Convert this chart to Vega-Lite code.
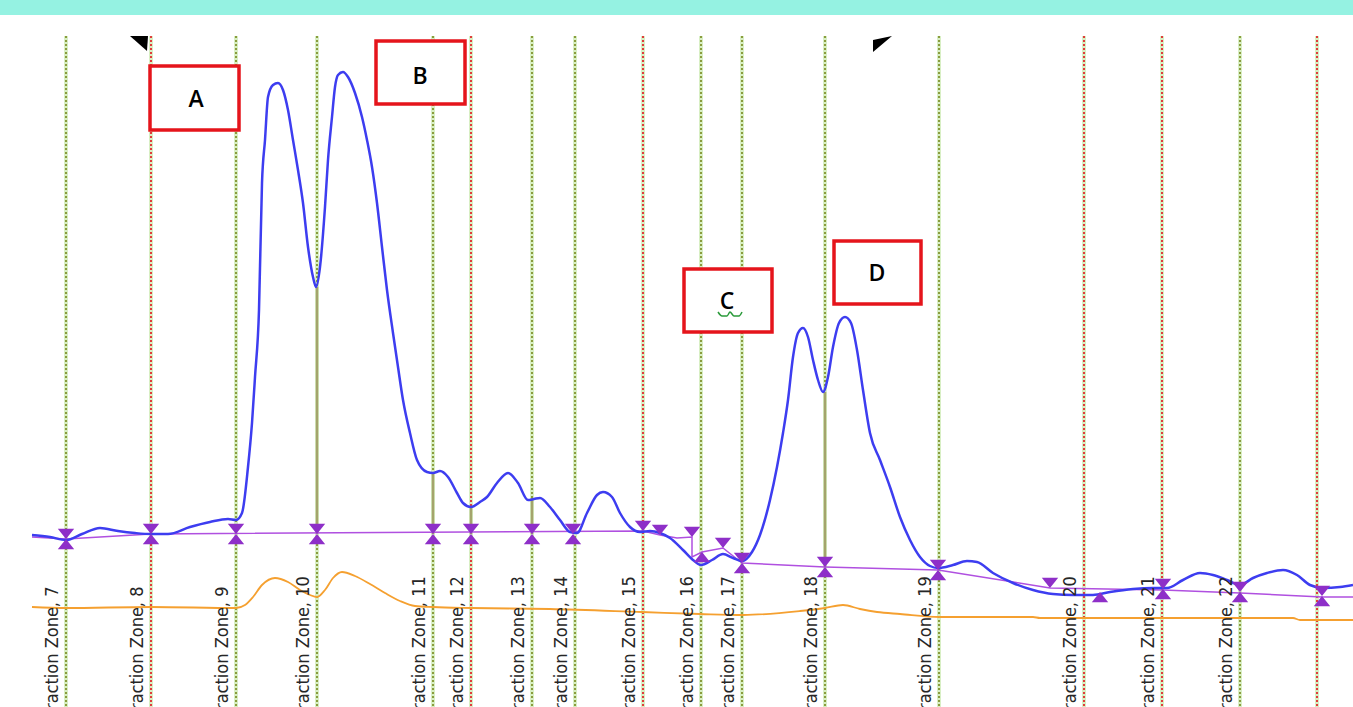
{
  "$schema": "https://vega.github.io/schema/vega-lite/v6.json",
  "width": 1353,
  "height": 707,
  "autosize": {"type": "none"},
  "padding": 0,
  "background": "white",
  "config": {"axis": {"disable": true}, "view": {"stroke": null}},
  "resolve": {"scale": {"shape": "independent", "color": "independent"}},
  "datasets": {
    "band": [{"t": 0, "t2": 1353, "s": 692, "s2": 707}],
    "zones": [
      {"t": 66, "kind": "g", "label": "Fraction Zone, 7"},
      {"t": 151, "kind": "r", "label": "Fraction Zone, 8"},
      {"t": 236, "kind": "g", "label": "Fraction Zone, 9"},
      {"t": 317, "kind": "g", "label": "Fraction Zone, 10"},
      {"t": 433, "kind": "g", "label": "Fraction Zone, 11"},
      {"t": 471, "kind": "r", "label": "Fraction Zone, 12"},
      {"t": 532, "kind": "g", "label": "Fraction Zone, 13"},
      {"t": 575, "kind": "g", "label": "Fraction Zone, 14"},
      {"t": 643, "kind": "r", "label": "Fraction Zone, 15"},
      {"t": 701, "kind": "g", "label": "Fraction Zone, 16"},
      {"t": 742, "kind": "g", "label": "Fraction Zone, 17"},
      {"t": 825, "kind": "g", "label": "Fraction Zone, 18"},
      {"t": 939, "kind": "g", "label": "Fraction Zone, 19"},
      {"t": 1084, "kind": "r", "label": "Fraction Zone, 20"},
      {"t": 1162, "kind": "r", "label": "Fraction Zone, 21"},
      {"t": 1240, "kind": "g", "label": "Fraction Zone, 22"},
      {"t": 1317, "kind": "r", "label": ""}
    ],
    "drops": [
      {"t": 317, "s": 420, "s2": 173},
      {"t": 433, "s": 234, "s2": 173},
      {"t": 471, "s": 200, "s2": 173},
      {"t": 532, "s": 209, "s2": 173},
      {"t": 825, "s": 315, "s2": 140}
    ],
    "orange": [
      {"t": 32, "s": 100}, {"t": 66, "s": 99}, {"t": 151, "s": 100}, {"t": 236, "s": 99},
      {"t": 245, "s": 102}, {"t": 253, "s": 110}, {"t": 262, "s": 122}, {"t": 275, "s": 129},
      {"t": 288, "s": 125}, {"t": 300, "s": 117}, {"t": 310, "s": 112}, {"t": 317, "s": 110},
      {"t": 325, "s": 117}, {"t": 333, "s": 129}, {"t": 342, "s": 135}, {"t": 355, "s": 131},
      {"t": 370, "s": 123}, {"t": 385, "s": 114}, {"t": 400, "s": 106}, {"t": 415, "s": 101},
      {"t": 433, "s": 100}, {"t": 471, "s": 99}, {"t": 550, "s": 98}, {"t": 642, "s": 95},
      {"t": 700, "s": 93}, {"t": 743, "s": 92}, {"t": 800, "s": 96}, {"t": 825, "s": 99},
      {"t": 843, "s": 102}, {"t": 860, "s": 98}, {"t": 877, "s": 95}, {"t": 900, "s": 93},
      {"t": 940, "s": 90}, {"t": 1033, "s": 90}, {"t": 1040, "s": 89}, {"t": 1293, "s": 89},
      {"t": 1300, "s": 87}, {"t": 1353, "s": 87}
    ],
    "base": [
      {"i": 1, "t": 32, "s": 170}, {"i": 2, "t": 66, "s": 168}, {"i": 3, "t": 151, "s": 173},
      {"i": 4, "t": 643, "s": 176}, {"i": 5, "t": 660, "s": 172}, {"i": 6, "t": 677, "s": 169},
      {"i": 7, "t": 692, "s": 170}, {"i": 8, "t": 692, "s": 150}, {"i": 9, "t": 702, "s": 155},
      {"i": 10, "t": 723, "s": 159}, {"i": 11, "t": 742, "s": 144}, {"i": 12, "t": 825, "s": 140},
      {"i": 13, "t": 938, "s": 137}, {"i": 14, "t": 1050, "s": 119}, {"i": 15, "t": 1163, "s": 117},
      {"i": 16, "t": 1240, "s": 114}, {"i": 17, "t": 1322, "s": 110}, {"i": 18, "t": 1353, "s": 110}
    ],
    "blue": [
      {"t": 32, "s": 172}, {"t": 50, "s": 170}, {"t": 66, "s": 167}, {"t": 82, "s": 173},
      {"t": 100, "s": 179}, {"t": 118, "s": 176}, {"t": 135, "s": 174}, {"t": 151, "s": 173},
      {"t": 168, "s": 173}, {"t": 190, "s": 180}, {"t": 210, "s": 185}, {"t": 228, "s": 188},
      {"t": 236, "s": 187}, {"t": 242, "s": 194}, {"t": 248, "s": 240}, {"t": 252, "s": 284},
      {"t": 255, "s": 330}, {"t": 259, "s": 397}, {"t": 262, "s": 524}, {"t": 265, "s": 567},
      {"t": 268, "s": 610}, {"t": 273, "s": 622}, {"t": 278, "s": 624}, {"t": 283, "s": 617},
      {"t": 288, "s": 597}, {"t": 293, "s": 567}, {"t": 298, "s": 537}, {"t": 303, "s": 504},
      {"t": 308, "s": 460}, {"t": 313, "s": 430}, {"t": 316, "s": 420}, {"t": 320, "s": 440},
      {"t": 325, "s": 500}, {"t": 328, "s": 547}, {"t": 332, "s": 590}, {"t": 335, "s": 620},
      {"t": 338, "s": 632}, {"t": 343, "s": 635}, {"t": 348, "s": 630}, {"t": 355, "s": 614},
      {"t": 362, "s": 590}, {"t": 367, "s": 567}, {"t": 372, "s": 540}, {"t": 377, "s": 504},
      {"t": 382, "s": 460}, {"t": 387, "s": 417}, {"t": 393, "s": 374}, {"t": 398, "s": 340},
      {"t": 403, "s": 307}, {"t": 410, "s": 274}, {"t": 417, "s": 247}, {"t": 427, "s": 235},
      {"t": 433, "s": 234}, {"t": 440, "s": 236}, {"t": 448, "s": 230}, {"t": 457, "s": 214},
      {"t": 463, "s": 204}, {"t": 471, "s": 200}, {"t": 480, "s": 205}, {"t": 487, "s": 210},
      {"t": 497, "s": 224}, {"t": 508, "s": 234}, {"t": 518, "s": 224}, {"t": 528, "s": 207},
      {"t": 534, "s": 208}, {"t": 540, "s": 209}, {"t": 550, "s": 200}, {"t": 560, "s": 187},
      {"t": 570, "s": 175}, {"t": 577, "s": 174}, {"t": 587, "s": 194}, {"t": 597, "s": 212},
      {"t": 603, "s": 215}, {"t": 612, "s": 210}, {"t": 620, "s": 194}, {"t": 630, "s": 180},
      {"t": 640, "s": 175}, {"t": 650, "s": 176}, {"t": 660, "s": 174}, {"t": 670, "s": 169},
      {"t": 683, "s": 157}, {"t": 693, "s": 147}, {"t": 701, "s": 142}, {"t": 712, "s": 147},
      {"t": 723, "s": 153}, {"t": 733, "s": 149}, {"t": 742, "s": 146}, {"t": 752, "s": 155},
      {"t": 760, "s": 172}, {"t": 770, "s": 207}, {"t": 777, "s": 240}, {"t": 783, "s": 274},
      {"t": 788, "s": 307}, {"t": 793, "s": 350}, {"t": 798, "s": 374}, {"t": 803, "s": 379},
      {"t": 808, "s": 370}, {"t": 813, "s": 347}, {"t": 818, "s": 327}, {"t": 823, "s": 315},
      {"t": 828, "s": 330}, {"t": 833, "s": 360}, {"t": 839, "s": 384}, {"t": 845, "s": 390},
      {"t": 851, "s": 384}, {"t": 857, "s": 357}, {"t": 863, "s": 317}, {"t": 870, "s": 274},
      {"t": 880, "s": 247}, {"t": 890, "s": 220}, {"t": 900, "s": 190}, {"t": 910, "s": 167},
      {"t": 920, "s": 150}, {"t": 930, "s": 141}, {"t": 938, "s": 139}, {"t": 953, "s": 142},
      {"t": 967, "s": 146}, {"t": 977, "s": 145}, {"t": 993, "s": 134}, {"t": 1013, "s": 124},
      {"t": 1033, "s": 117}, {"t": 1053, "s": 113}, {"t": 1073, "s": 112}, {"t": 1093, "s": 112},
      {"t": 1110, "s": 115}, {"t": 1133, "s": 118}, {"t": 1153, "s": 119}, {"t": 1167, "s": 119},
      {"t": 1183, "s": 127}, {"t": 1200, "s": 134}, {"t": 1213, "s": 132}, {"t": 1227, "s": 127},
      {"t": 1240, "s": 122}, {"t": 1253, "s": 129}, {"t": 1267, "s": 134}, {"t": 1283, "s": 137},
      {"t": 1297, "s": 132}, {"t": 1310, "s": 122}, {"t": 1323, "s": 119}, {"t": 1340, "s": 120},
      {"t": 1353, "s": 122}
    ],
    "markers": [
      {"t": 66, "s": 168, "kind": "bow"}, {"t": 151, "s": 173, "kind": "bow"},
      {"t": 236, "s": 173, "kind": "bow"}, {"t": 317, "s": 173, "kind": "bow"},
      {"t": 433, "s": 173, "kind": "bow"}, {"t": 471, "s": 173, "kind": "bow"},
      {"t": 532, "s": 173, "kind": "bow"}, {"t": 573, "s": 173, "kind": "bow"},
      {"t": 643, "s": 176, "kind": "down"}, {"t": 660, "s": 172, "kind": "down"},
      {"t": 692, "s": 170, "kind": "down"}, {"t": 702, "s": 155, "kind": "up"},
      {"t": 723, "s": 159, "kind": "down"}, {"t": 742, "s": 144, "kind": "bow"},
      {"t": 825, "s": 140, "kind": "bow"}, {"t": 938, "s": 137, "kind": "bow"},
      {"t": 1050, "s": 119, "kind": "down"}, {"t": 1100, "s": 115, "kind": "up"},
      {"t": 1163, "s": 118, "kind": "bow"}, {"t": 1240, "s": 115, "kind": "bow"},
      {"t": 1322, "s": 111, "kind": "bow"}
    ],
    "boxes": [
      {"label": "A", "t": 150, "t2": 239, "s": 577, "s2": 641, "tc": 196, "sc": 607},
      {"label": "B", "t": 376, "t2": 465, "s": 603, "s2": 666, "tc": 420, "sc": 630},
      {"label": "C", "t": 684, "t2": 772, "s": 375, "s2": 438, "tc": 727, "sc": 405},
      {"label": "D", "t": 834, "t2": 921, "s": 403, "s2": 466, "tc": 877, "sc": 433}
    ],
    "squiggle": [
      {"t": 718, "s": 395}, {"t": 722, "s": 391}, {"t": 727, "s": 391}, {"t": 730, "s": 395},
      {"t": 734, "s": 391}, {"t": 739, "s": 391}, {"t": 742, "s": 395}
    ],
    "arrows": [
      {"t": 138, "s": 663, "kind": "L"},
      {"t": 882, "s": 663, "kind": "R"}
    ]
  },
  "layer": [
    {
      "data": {"name": "band"},
      "mark": {"type": "rect", "color": "#95f2e2"},
      "encoding": {
        "x": {"field": "t", "type": "quantitative", "scale": {"domain": [0, 1353], "nice": false, "zero": false}},
        "y": {"field": "s", "type": "quantitative", "scale": {"domain": [0, 707], "nice": false, "zero": false}},
        "x2": {"field": "t2"}, "y2": {"field": "s2"}
      }
    },
    {
      "data": {"name": "zones"},
      "mark": {"type": "rule", "strokeWidth": 4, "color": "#d8efc4"},
      "encoding": {
        "x": {"field": "t", "type": "quantitative"},
        "y": {"datum": 671, "type": "quantitative"}, "y2": {"datum": 0}
      }
    },
    {
      "data": {"name": "zones"},
      "mark": {"type": "rule", "strokeWidth": 2, "strokeDash": [2, 2]},
      "encoding": {
        "x": {"field": "t", "type": "quantitative"},
        "y": {"datum": 671, "type": "quantitative"}, "y2": {"datum": 0},
        "color": {"field": "kind", "type": "nominal", "scale": {"domain": ["g", "r"], "range": ["#8a9c3e", "#e03c3c"]}, "legend": null}
      }
    },
    {
      "data": {"name": "drops"},
      "mark": {"type": "rule", "strokeWidth": 2.5, "color": "#a4a46c"},
      "encoding": {
        "x": {"field": "t", "type": "quantitative"},
        "y": {"field": "s", "type": "quantitative"}, "y2": {"field": "s2"}
      }
    },
    {
      "data": {"name": "orange"},
      "mark": {"type": "line", "color": "#f5a030", "strokeWidth": 1.8, "interpolate": "monotone"},
      "encoding": {
        "x": {"field": "t", "type": "quantitative"},
        "y": {"field": "s", "type": "quantitative"}
      }
    },
    {
      "data": {"name": "base"},
      "mark": {"type": "line", "color": "#b050e0", "strokeWidth": 1.5},
      "encoding": {
        "x": {"field": "t", "type": "quantitative"},
        "y": {"field": "s", "type": "quantitative"},
        "order": {"field": "i", "type": "quantitative"}
      }
    },
    {
      "data": {"name": "blue"},
      "mark": {"type": "line", "color": "#3d3df0", "strokeWidth": 2.5, "interpolate": "monotone"},
      "encoding": {
        "x": {"field": "t", "type": "quantitative"},
        "y": {"field": "s", "type": "quantitative"}
      }
    },
    {
      "data": {"name": "markers"},
      "mark": {"type": "point", "filled": true, "opacity": 1, "size": 420, "color": "#8e2fc8"},
      "encoding": {
        "x": {"field": "t", "type": "quantitative"},
        "y": {"field": "s", "type": "quantitative"},
        "shape": {"field": "kind", "type": "nominal", "legend": null, "scale": {"domain": ["bow", "down", "up"], "range": ["M-0.8,-1L0.8,-1L0,0L0.8,1L-0.8,1L0,0Z", "M-0.8,-1L0.8,-1L0,0Z", "M0,0L0.8,1L-0.8,1Z"]}}
      }
    },
    {
      "data": {"name": "zones"},
      "mark": {"type": "text", "angle": 270, "align": "left", "baseline": "alphabetic", "dy": -8, "fontSize": 18, "font": "Liberation Sans Narrow, DejaVu Sans Condensed, Roboto Condensed, sans-serif", "color": "#262626"},
      "encoding": {
        "x": {"field": "t", "type": "quantitative"},
        "y": {"datum": -11, "type": "quantitative"},
        "text": {"field": "label"}
      }
    },
    {
      "data": {"name": "boxes"},
      "mark": {"type": "rect", "fill": "white", "stroke": "#e5141b", "strokeWidth": 3.5},
      "encoding": {
        "x": {"field": "t", "type": "quantitative"},
        "y": {"field": "s", "type": "quantitative"},
        "x2": {"field": "t2"}, "y2": {"field": "s2"}
      }
    },
    {
      "data": {"name": "boxes"},
      "mark": {"type": "text", "fontSize": 23, "fontWeight": 600, "font": "Open Sans", "color": "black", "baseline": "middle", "align": "center"},
      "encoding": {
        "x": {"field": "tc", "type": "quantitative"},
        "y": {"field": "sc", "type": "quantitative"},
        "text": {"field": "label"}
      }
    },
    {
      "data": {"name": "squiggle"},
      "mark": {"type": "line", "color": "#2a9a3a", "strokeWidth": 1.5, "interpolate": "monotone"},
      "encoding": {
        "x": {"field": "t", "type": "quantitative"},
        "y": {"field": "s", "type": "quantitative"}
      }
    },
    {
      "data": {"name": "arrows"},
      "mark": {"type": "point", "filled": true, "opacity": 1, "size": 400, "color": "black"},
      "encoding": {
        "x": {"field": "t", "type": "quantitative"},
        "y": {"field": "s", "type": "quantitative"},
        "shape": {"field": "kind", "type": "nominal", "legend": null, "scale": {"domain": ["L", "R"], "range": ["M-0.8,-0.8L1,-0.8L0.9,0.7Z", "M-0.9,-0.4L1,-0.8L-0.9,0.8Z"]}}
      }
    }
  ]
}
